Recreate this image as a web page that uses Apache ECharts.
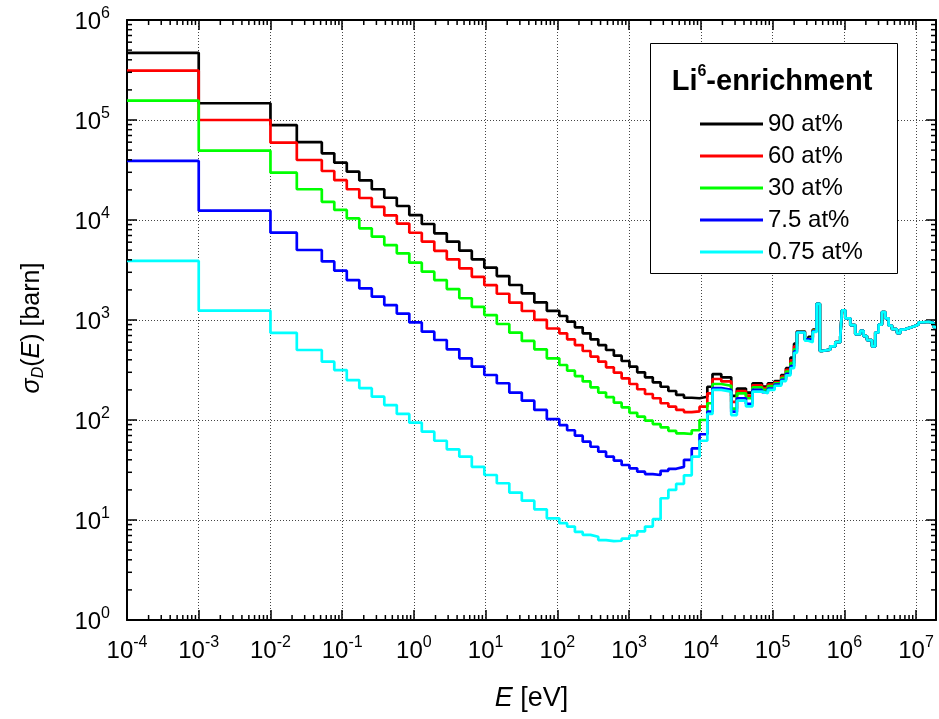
<!DOCTYPE html>
<html>
<head>
<meta charset="utf-8">
<script src="https://cdn.jsdelivr.net/npm/echarts@6/dist/echarts.min.js"></script>
<style>
html,body{margin:0;padding:0;background:#fff;}
#chart{width:939px;height:719px;}
</style>
</head>
<body>
<div id="chart"></div>
<script>
// Bin boundaries of the energy group structure (eV)
const energyEdges = [
  1e-4, 1e-3, 1e-2, 0.0233, 0.052, 0.0776, 0.1159, 0.1732, 0.2587, 0.3864, 0.5772, 0.8623,
  1.288, 1.924, 2.874, 4.294, 6.414, 9.583, 14.31, 21.38, 31.94, 47.71, 71.29, 106.5,
  136.8, 175.6, 225.5, 289.5, 371.8, 477.3, 612.9, 787.0, 1011, 1298, 1667, 2140, 2749,
  3529, 4532, 5820, 7472, 9596, 12320,
  14550, 19280, 26550, 31840, 42560, 52600, 71120, 86100, 106700, 132100, 153800, 177800,
  199500, 218800, 281800, 316200, 363100, 412100, 457100, 488700, 638300, 749900, 879000,
  929000, 1.033e6, 1.213e6, 1.422e6, 1.671e6, 1.858e6, 2.070e6, 2.432e6, 2.704e6, 3.013e6,
  3.350e6, 3.733e6, 4.150e6, 4.624e6, 5.433e6, 6.039e6, 6.714e6, 7.889e6, 9.268e6, 1.086e7,
  1.276e7, 1.500e7, 1.762e7, 1.9e7
];

// Group values above ~400 keV (common to all enrichments)
const fastRegion = [
  1450, 490, 505, 545, 600, 680, 1250, 1040, 890, 720, 780, 690, 630, 545, 750, 900, 1200,
  1040, 880, 810, 740, 800, 830, 860, 900, 950, 960, 930, 850
];

// sigma_D per group (barn), thermal -> ~400 keV
const sigma90 = [
  470000, 147000, 89000, 60000, 46400, 37400, 30400, 24900, 20300, 16700, 13800, 11200,
  9120, 7360, 6070, 4930, 4040, 3340, 2750, 2240, 1850, 1500, 1235,
  1096, 962, 845, 735, 641, 562, 501, 440, 389, 341, 300, 267, 238, 215, 195, 178, 167, 165, 171,
  215, 288, 267, 174, 206, 188, 233, 216, 233, 245, 282, 330, 420, 580, 770, 640, 680, 800
];
const sigma60 = [
  311000, 100000, 59300, 39800, 30900, 25000, 20300, 16600, 13500, 11100, 9200, 7460,
  6080, 4920, 4040, 3290, 2700, 2230, 1830, 1490, 1230, 1005, 822,
  735, 641, 562, 490, 430, 383, 336, 297, 261, 229, 203, 182, 165, 147, 136, 126, 120, 122, 136,
  185, 257, 243, 152, 195, 175, 222, 208, 226, 238, 272, 318, 395, 545, 765, 640, 670, 790
];
const sigma30 = [
  156000, 49300, 29700, 20300, 15200, 12600, 10400, 8260, 6810, 5620, 4640, 3740,
  3040, 2510, 2040, 1650, 1350, 1120, 912, 747, 617, 509, 414,
  355, 311, 275, 243, 212, 188, 169, 149, 134, 118, 108, 98.5, 91, 84.5, 78, 73.6, 72.4, 79, 100,
  147, 229, 220, 130, 185, 165, 212, 200, 218, 232, 262, 305, 370, 510, 760, 640, 660, 780
];
const sigma7_5 = [
  39000, 12400, 7470, 5010, 3850, 3110, 2510, 2070, 1710, 1410, 1160, 945,
  764, 631, 509, 414, 341, 282, 233, 188, 156, 126, 102,
  89, 79, 69.7, 60.7, 54, 48.2, 43, 39.2, 35.5, 32.9, 30.4, 28.8, 28.2, 31, 32.5, 34, 40, 52, 72,
  121, 208, 200, 121, 165, 145, 200, 190, 206, 226, 252, 290, 345, 485, 755, 640, 640, 770
];
const sigma0_75 = [
  3900, 1240, 745, 501, 383, 316, 251, 208, 171, 141, 115, 94,
  76.4, 62, 50.9, 43, 34, 28.2, 23.3, 18.8, 15.6, 12.8, 10.4,
  9.3, 8.6, 7.6, 7.1, 6.8, 6.3, 6.15, 6.2, 6.5, 7.0, 7.7, 8.6, 10.2, 16.5, 20, 23, 28, 43, 62,
  115, 200, 192, 112, 156, 137, 192, 185, 200, 220, 245, 280, 330, 470, 750, 620, 600, 760
];

const seriesNames = ['90 at%', '60 at%', '30 at%', '7.5 at%', '0.75 at%'];
const seriesColors = ['#000000', '#ff0000', '#00ff00', '#0000ff', '#00ffff'];
const seriesValues = [sigma90, sigma60, sigma30, sigma7_5, sigma0_75];

const xDecades = [1e-4, 1e-3, 1e-2, 1e-1, 1, 10, 100, 1e3, 1e4, 1e5, 1e6, 1e7];
const yDecades = [1, 10, 100, 1e3, 1e4, 1e5, 1e6];
const minorMultipliers = [2, 3, 4, 5, 6, 7, 8, 9];

const X_MIN = 1e-4, X_MAX = 1.9e7, Y_MIN = 1, Y_MAX = 1e6;
const F = '"Liberation Sans", Arial, sans-serif';

function minorTicks(decades, max) {
  const out = [];
  decades.forEach(d => minorMultipliers.forEach(m => { if (m * d < max) out.push(m * d); }));
  return out;
}
function stepData(values) {
  const pts = values.map((v, i) => [energyEdges[i], v]);
  pts.push([energyEdges[values.length], values[values.length - 1]]);
  return pts;
}
function decadeLabel(v) {
  const e = Math.round(Math.log10(v));
  if (Math.abs(v / Math.pow(10, e) - 1) > 1e-6) return '';
  return '{b|10}{s|' + e + '}';
}
const tickRich = {
  b: { fontSize: 24, fontFamily: F, color: '#000', verticalAlign: 'bottom', lineHeight: 27 },
  s: { fontSize: 16, fontFamily: F, color: '#000', verticalAlign: 'bottom', padding: [0, 0, 12, 0] }
};
const frameLine = { show: true, onZero: false, lineStyle: { color: '#000', width: 2 } };
const majorTick = { show: true, inside: true, length: 10, lineStyle: { color: '#000', width: 1.5 } };
const gridLine = { show: true, lineStyle: { color: '#444', width: 1, type: [1, 2] } };
const MINOR_LEN = 5;

// Minor ticks (2..9 x 10^n) on all four frame sides, positioned through the axes' own scales
function minorTickSeries(values, dim) {
  return {
    type: 'custom', name: 'minorTicks-' + dim, silent: true, z: 4, clip: false,
    data: values.map(v => dim === 'x' ? [v, Y_MIN] : [X_MIN, v]),
    encode: { x: 0, y: 1 },
    renderItem: function (params, api) {
      const st = { stroke: '#000', lineWidth: 1.5 };
      if (dim === 'x') {
        const v = api.value(0);
        const b = api.coord([v, Y_MIN]);
        const t = api.coord([v, Y_MAX]);
        return { type: 'group', children: [
          { type: 'line', shape: { x1: b[0], y1: b[1], x2: b[0], y2: b[1] - MINOR_LEN }, style: st },
          { type: 'line', shape: { x1: t[0], y1: t[1], x2: t[0], y2: t[1] + MINOR_LEN }, style: st }
        ] };
      }
      const v = api.value(1);
      const l = api.coord([X_MIN, v]);
      const r = api.coord([X_MAX, v]);
      return { type: 'group', children: [
        { type: 'line', shape: { x1: l[0], y1: l[1], x2: l[0] + MINOR_LEN, y2: l[1] }, style: st },
        { type: 'line', shape: { x1: r[0], y1: r[1], x2: r[0] - MINOR_LEN, y2: r[1] }, style: st }
      ] };
    }
  };
}

const chart = echarts.init(document.getElementById('chart'), null, { renderer: 'canvas' });
const lineSeries = seriesValues.map((vals, k) => ({
  name: seriesNames[k], type: 'line', step: 'end', xAxisIndex: 0, yAxisIndex: 0,
  showSymbol: false, symbol: 'none', color: seriesColors[k],
  lineStyle: { width: 2.7, color: seriesColors[k] }, itemStyle: { color: seriesColors[k] },
  data: stepData(vals.concat(fastRegion)), z: 2
}));

chart.setOption({
  animation: false,
  backgroundColor: '#fff',
  grid: { left: 127, right: 3, top: 20, bottom: 99, containLabel: false },
  xAxis: [
    {
      type: 'log', logBase: 10, min: X_MIN, max: X_MAX, interval: 1, position: 'bottom',
      axisLine: frameLine, axisTick: majorTick,
      axisLabel: { margin: 15, formatter: decadeLabel, rich: tickRich },
      splitLine: gridLine,
      name: '{i|E} [eV]', nameLocation: 'middle', nameGap: 65,
      nameTextStyle: { fontSize: 27, fontFamily: F, color: '#000',
        rich: { i: { fontSize: 27, fontFamily: F, fontStyle: 'italic', color: '#000' } } }
    },
    {
      type: 'log', logBase: 10, min: X_MIN, max: X_MAX, interval: 1, position: 'top',
      axisLine: frameLine, axisTick: majorTick, axisLabel: { show: false }, splitLine: { show: false }
    }
  ],
  yAxis: [
    {
      type: 'log', logBase: 10, min: Y_MIN, max: Y_MAX, interval: 1, position: 'left',
      axisLine: frameLine, axisTick: majorTick,
      axisLabel: { margin: 17, formatter: decadeLabel, rich: tickRich },
      splitLine: gridLine,
      name: '{g|σ}{d|D}{n|(}{g|E}{n|) [barn]}{sp| }', nameLocation: 'middle', nameGap: 80, nameRotate: 90,
      nameTextStyle: {
        color: '#000',
        rich: {
          g: { fontSize: 25, fontFamily: F, fontStyle: 'italic', color: '#000', lineHeight: 30 },
          n: { fontSize: 25, fontFamily: F, color: '#000', lineHeight: 30 },
          d: { fontSize: 16, fontFamily: F, fontStyle: 'italic', color: '#000', verticalAlign: 'bottom', padding: [7, 0, 0, 0] },
          sp: { fontSize: 25, width: 16, lineHeight: 30 }
        }
      }
    },
    {
      type: 'log', logBase: 10, min: Y_MIN, max: Y_MAX, interval: 1, position: 'right',
      axisLine: frameLine, axisTick: majorTick, axisLabel: { show: false }, splitLine: { show: false }
    }
  ],
  legend: {
    orient: 'vertical', left: 695, top: 107, itemWidth: 63, itemHeight: 3, itemGap: 8,
    icon: 'rect', data: seriesNames, selectedMode: false, z: 10,
    textStyle: { fontSize: 24, fontFamily: F, color: '#000', lineHeight: 24 }
  },
  graphic: [
    { type: 'rect', left: 650, top: 43, z: 5, shape: { width: 247, height: 230 },
      style: { fill: '#fff', stroke: '#000', lineWidth: 1 } },
    { type: 'text', x: 772, y: 79, z: 6,
      style: {
        text: '{b|Li}{s|6}{b|-enrichment}', align: 'center', verticalAlign: 'middle',
        rich: {
          b: { fontSize: 29, fontWeight: 'bold', fontFamily: F, fill: '#000', verticalAlign: 'bottom', lineHeight: 34 },
          s: { fontSize: 16, fontWeight: 'bold', fontFamily: F, fill: '#000', verticalAlign: 'bottom', padding: [0, 0, 16, 0] }
        }
      } }
  ],
  series: lineSeries.concat([
    minorTickSeries(minorTicks(xDecades, X_MAX), 'x'),
    minorTickSeries(minorTicks(yDecades, Y_MAX), 'y')
  ])
});
</script>
</body>
</html>
